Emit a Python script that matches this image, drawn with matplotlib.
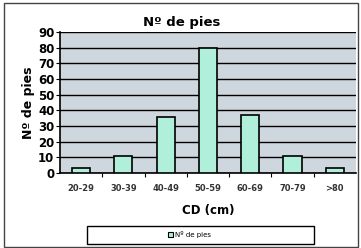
import matplotlib.pyplot as plt
import matplotlib.patches as mpatches

categorias = ['20-29', '30-39', '40-49', '50-59', '60-69', '70-79', '>80']
n_pies = [3, 11, 36, 80, 37, 11, 3]

fig = plt.figure(figsize=(3.61, 2.48), dpi=100)
fig.patch.set_facecolor('white')
ax = fig.add_axes([0.166, 0.302, 0.82, 0.569])
ax.set_facecolor('#cfd7de')

x = range(len(categorias))
ax.bar(x, n_pies, width=0.43, color='#b0f0da', edgecolor='black', linewidth=1.2, zorder=3)

ax.set_ylim(0, 90)
ax.set_xlim(-0.5, len(categorias) - 0.5)
ax.set_yticks(range(0, 91, 10))
ax.yaxis.grid(True, color='black', linewidth=1.0, zorder=1)
ax.set_axisbelow(True)
ax.set_xticks([i + 0.5 for i in range(len(categorias) - 1)], minor=False)
ax.set_xticklabels([])
ax.set_xticks(list(x), minor=True)
ax.set_xticklabels(categorias, minor=True, fontsize=6, fontweight='bold', color='#333333')
ax.tick_params(axis='x', which='minor', length=0, pad=8)
ax.tick_params(axis='x', which='major', length=3, direction='out')
ax.tick_params(axis='y', length=3, direction='out', labelsize=8.5, pad=1)
for lbl in ax.get_yticklabels():
    lbl.set_fontweight('bold')
for s in ['top', 'right']:
    ax.spines[s].set_visible(False)
ax.spines['left'].set_linewidth(1.2)
ax.spines['bottom'].set_linewidth(1.2)

ax.set_title('Nº de pies', fontsize=9.5, fontweight='bold', pad=4, x=0.41)
ax.set_ylabel('Nº de pies', fontsize=9, fontweight='bold', labelpad=2)
ax.set_xlabel('CD (cm)', fontsize=8.5, fontweight='bold', labelpad=8)

# legend box
fig.add_artist(mpatches.Rectangle((0.241, 0.016), 0.629, 0.073, transform=fig.transFigure,
                                  fill=False, edgecolor='black', linewidth=1.0))
handle = mpatches.Patch(facecolor='#b0f0da', edgecolor='black', linewidth=0.8)
fig.legend([handle], ['Nº de pies'], loc='center', bbox_to_anchor=(0.525, 0.053),
           fontsize=5, frameon=False, handlelength=0.7, handleheight=0.7,
           handletextpad=0.3, borderpad=0.2)

fig.add_artist(mpatches.Rectangle((0.012, 0.004), 0.98, 0.985, transform=fig.transFigure,
                                  fill=False, edgecolor='#444444', linewidth=1.0))

fig.savefig('out.png', dpi=100)
